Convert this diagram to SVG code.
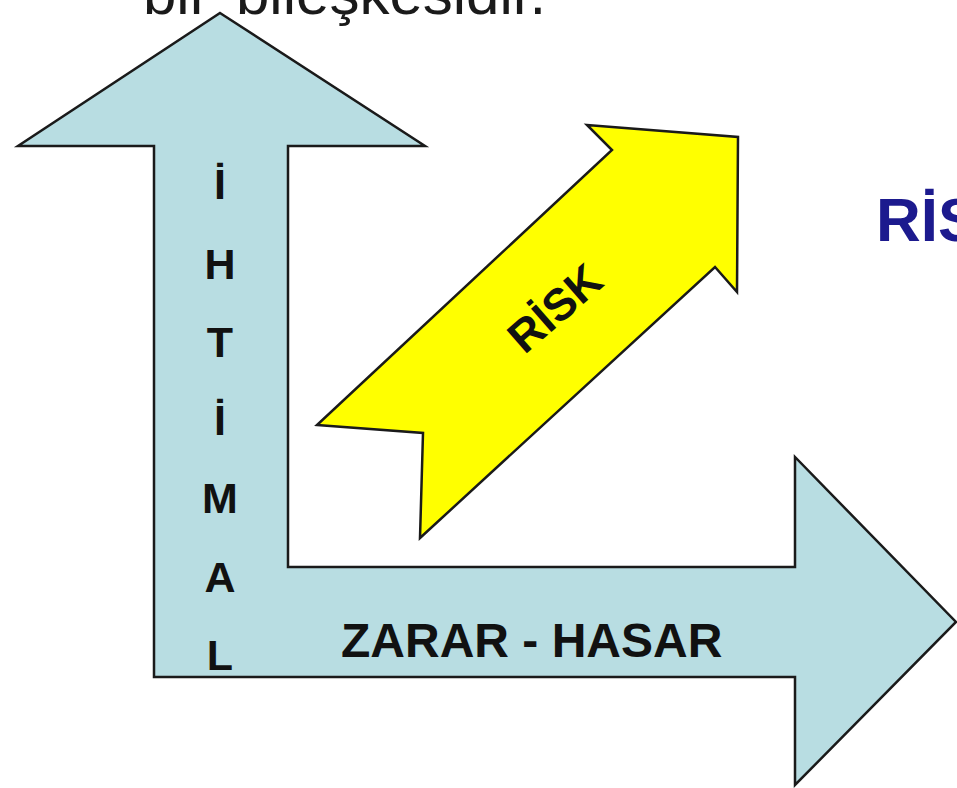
<svg xmlns="http://www.w3.org/2000/svg" width="957" height="788" viewBox="0 0 957 788">
<style>
.lbl{font-family:"Liberation Sans",Arial,sans-serif;font-weight:bold;fill:#111}
.big{fill:#b8dde2;stroke:#1a1a1a;stroke-width:2.5;stroke-linejoin:miter}
.yel{fill:#ffff00;stroke:#1a1a1a;stroke-width:2.5;stroke-linejoin:miter}
</style>
<rect width="957" height="788" fill="#ffffff"/>
<text x="143" y="14" font-family="Liberation Sans,Arial,sans-serif" font-size="60" fill="#1a1a1a"><tspan x="143">bir</tspan><tspan x="236">bileşkesidir.</tspan></text>
<g id="axes">
<polygon class="big" points="220,13 425,146 288,146 288,567 795,567 795,457 956,622 795,785 795,677 154,677 154,146 18,146"/>
</g>
<g id="ihtimal" class="lbl" font-size="43" text-anchor="middle">
<text x="220" y="199">İ</text>
<text x="220" y="279">H</text>
<text x="220" y="357">T</text>
<text x="220" y="435">İ</text>
<text x="220" y="513">M</text>
<text x="220" y="592">A</text>
<text x="220" y="670">L</text>
</g>
<g id="zarar">
<text class="lbl" x="341" y="657" font-size="48">ZARAR - HASAR</text>
</g>
<g id="risk-arrow">
<polygon class="yel" points="317,425 423,433 420,538 715,267 737,292 738,137 587,125 612,150"/>
<text class="lbl" font-size="45" text-anchor="middle" transform="translate(565,320) rotate(-41)">RİSK</text>
</g>
<g id="risk-title">
<text x="876" y="241" font-family="Liberation Sans,Arial,sans-serif" font-weight="bold" font-size="62" fill="#1c1a8e">RİS</text>
</g>
</svg>
